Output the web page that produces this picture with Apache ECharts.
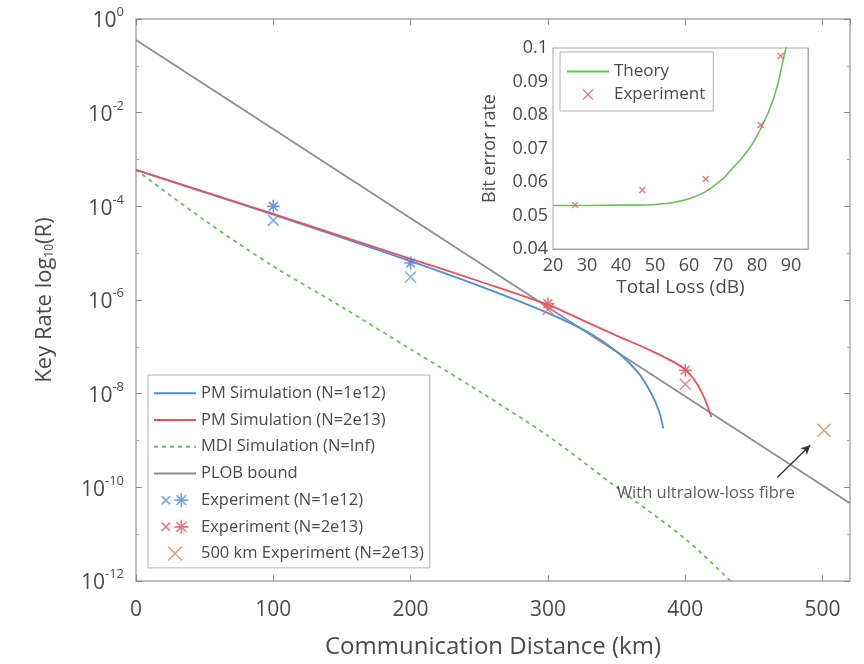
<!DOCTYPE html>
<html>
<head>
<meta charset="utf-8">
<script src="https://cdn.jsdelivr.net/npm/echarts@6/dist/echarts.min.js"></script>
<style>
html,body{margin:0;padding:0;background:#fff;}
#chart{width:864px;height:664px;}
</style>
</head>
<body>
<div id="chart"></div>
<script>
// ---------- main plot data (distance km, log10 key rate) ----------
const pm12Dist = [0, 50, 100, 150, 200, 250, 300, 330, 351, 366, 375, 381, 384];
const pm12Rate = [-3.22, -3.7, -4.18, -4.67, -5.17, -5.7, -6.28, -6.7, -7.12, -7.56, -7.98, -8.38, -8.74];

const pm13Dist = [0, 50, 100, 150, 200, 250, 300, 325, 350, 375, 390, 400, 407, 413, 419];
const pm13Rate = [-3.22, -3.69, -4.16, -4.64, -5.12, -5.6, -6.1, -6.43, -6.76, -7.08, -7.3, -7.48, -7.72, -8.03, -8.5];

const mdiDist = [0, 50, 100, 150, 200, 250, 300, 350, 400, 433];
const mdiRate = [-3.22, -4.3, -5.28, -6.15, -7.05, -7.95, -8.9, -10.0, -11.1, -12.0];

const plobDist = [0, 520];
const plobRate = [-0.45, -10.34];

const exp12CrossDist = [100, 200];
const exp12CrossRate = [-4.3, -5.51];
const exp12StarDist = [100, 200];
const exp12StarRate = [-4.0, -5.21];

const exp13CrossDist = [300, 400];
const exp13CrossRate = [-6.2, -7.8];
const exp13StarDist = [300, 400];
const exp13StarRate = [-6.08, -7.5];

const exp500Dist = [501];
const exp500Rate = [-8.78];

const noteText = 'With ultralow-loss fibre';
const notePos = [415, -10.13];
const arrowFrom = [467, -9.79];
const arrowTo = [491, -9.1];

// ---------- inset data ----------
const theoryLoss = [20, 30, 40, 45, 50, 55, 60, 65, 70, 72, 75, 77, 79, 81, 83, 85, 86.5, 87.5, 88.4, 88.7];
const theoryBer = [0.053, 0.053, 0.0531, 0.0531, 0.0533, 0.0538, 0.0550, 0.0572, 0.0610, 0.0632, 0.0665, 0.0690, 0.0720, 0.0757, 0.0800, 0.0854, 0.0908, 0.0955, 0.0994, 0.1008];
const expLoss = [26.5, 46.3, 64.9, 81.1, 87];
const expBer = [0.0531, 0.0576, 0.0609, 0.077, 0.0976];

const zip = (a, b) => a.map((v, i) => [v, b[i]]);

const C_BLUE = '#4f8fd6';
const C_BLUE2 = '#4a7fd0';
const C_RED = '#e5535c';
const C_GREEN = '#6cbf5c';
const C_GREY = '#8e8e8e';
const C_ORANGE = '#d88a55';
const TXT = '#4a4a4a';
const AX = '#a8a8a8';
const FONT = 'Open Sans';

const CROSS = 'path://M0,0L10,10M10,0L0,10';
const STAR = 'path://M5,0L5,10M0,5L10,5M1.6,1.6L8.4,8.4M8.4,1.6L1.6,8.4';
const PAIR = 'path://M0,2L6,8M6,2L0,8M14,0L14,10M9,5L19,5M10.5,1.5L17.5,8.5M17.5,1.5L10.5,8.5';

function markerSeries(name, dist, rate, symbol, color, size) {
  return {
    type: 'scatter', name: name, xAxisIndex: 0, yAxisIndex: 0,
    data: zip(dist, rate), symbol: symbol, symbolSize: size,
    itemStyle: { color: 'none', borderColor: color, borderWidth: 1.6 },
    z: 5
  };
}
function curve(name, dist, rate, color, width, dash, z) {
  return {
    type: 'line', name: name, xAxisIndex: 0, yAxisIndex: 0,
    data: zip(dist, rate), symbol: 'none', smooth: 0.3,
    lineStyle: { color: color, width: width, type: dash || 'solid' }, itemStyle: { color: color }, z: z
  };
}

const chart = echarts.init(document.getElementById('chart'));
const option = {
  animation: false,
  backgroundColor: '#fff',
  textStyle: { fontFamily: FONT },
  grid: [
    { left: 136, right: 14, top: 19, bottom: 83, show: false },
    { left: 553, top: 48, width: 255, height: 201, show: true, backgroundColor: '#fff', borderColor: AX, borderWidth: 1, z: 10 }
  ],
  xAxis: [
    {
      type: 'value', gridIndex: 0, min: 0, max: 520, interval: 100,
      axisLine: { show: true, onZero: false, lineStyle: { color: AX, width: 1.5 } },
      axisTick: { inside: true, length: 6, lineStyle: { color: '#888' } },
      axisLabel: { color: TXT, fontSize: 21, margin: 19, showMaxLabel: false, fontFamily: FONT },
      splitLine: { show: false },
      name: 'Communication Distance (km)', nameLocation: 'middle', nameGap: 54,
      nameTextStyle: { color: TXT, fontSize: 24, fontFamily: FONT }
    },
    {
      type: 'value', gridIndex: 0, position: 'top', min: 0, max: 520, interval: 100,
      axisLine: { show: true, onZero: false, lineStyle: { color: AX, width: 1.5 } },
      axisTick: { inside: true, length: 6, lineStyle: { color: '#888' } },
      axisLabel: { show: false }, splitLine: { show: false }
    },
    {
      type: 'value', gridIndex: 1, min: 20, max: 95, interval: 10,
      axisLine: { show: true, onZero: false, lineStyle: { color: AX } },
      axisTick: { inside: true, length: 4, lineStyle: { color: '#999' } },
      axisLabel: { color: TXT, fontSize: 18, margin: 8, showMaxLabel: false, fontFamily: FONT },
      splitLine: { show: false },
      name: 'Total Loss (dB)', nameLocation: 'middle', nameGap: 29,
      nameTextStyle: { color: TXT, fontSize: 19, fontFamily: FONT }
    },
    {
      type: 'value', gridIndex: 1, position: 'top', min: 20, max: 95, interval: 10,
      axisLine: { show: true, onZero: false, lineStyle: { color: AX } },
      axisTick: { inside: true, length: 4, lineStyle: { color: '#999' } },
      axisLabel: { show: false }, splitLine: { show: false }
    }
  ],
  yAxis: [
    {
      type: 'value', gridIndex: 0, min: -12, max: 0, interval: 2,
      axisLine: { show: true, onZero: false, lineStyle: { color: AX, width: 1.5 } },
      axisTick: { inside: true, length: 6, lineStyle: { color: '#888' } },
      minorTick: { show: true, splitNumber: 2, length: 3, lineStyle: { color: '#aaa' } },
      splitLine: { show: false },
      axisLabel: {
        color: TXT, margin: 12, fontFamily: FONT,
        formatter: v => '{b|10}{s|' + v + '}',
        rich: {
          b: { fontSize: 21, color: TXT, fontFamily: FONT, lineHeight: 26, verticalAlign: 'bottom' },
          s: { fontSize: 13, color: TXT, fontFamily: FONT, lineHeight: 26, verticalAlign: 'top', padding: [0, 0, 9, 0] }
        }
      },
      name: 'Key Rate log{n|10}(R)', nameLocation: 'middle', nameGap: 80, nameRotate: 90,
      nameTextStyle: {
        color: TXT, fontSize: 22, fontFamily: FONT,
        rich: { n: { fontSize: 12, color: TXT, fontFamily: FONT, padding: [9, 0, 0, 0] } }
      }
    },
    {
      type: 'value', gridIndex: 0, position: 'right', min: -12, max: 0, interval: 2,
      axisLine: { show: true, onZero: false, lineStyle: { color: AX, width: 1.5 } },
      axisTick: { inside: true, length: 6, lineStyle: { color: '#888' } },
      minorTick: { show: true, splitNumber: 2, length: 3, lineStyle: { color: '#aaa' } },
      axisLabel: { show: false }, splitLine: { show: false }
    },
    {
      type: 'value', gridIndex: 1, min: 0.04, max: 0.1, interval: 0.01,
      axisLine: { show: true, onZero: false, lineStyle: { color: AX } },
      axisTick: { inside: true, length: 4, lineStyle: { color: '#999' } },
      axisLabel: { color: TXT, fontSize: 18, margin: 5, fontFamily: FONT,
        formatter: v => (Math.abs(v - 0.1) < 1e-9 ? '0.1' : v.toFixed(2)) },
      splitLine: { show: false },
      name: 'Bit error rate', nameLocation: 'middle', nameGap: 54, nameRotate: 90,
      nameTextStyle: { color: TXT, fontSize: 18, fontFamily: FONT }
    },
    {
      type: 'value', gridIndex: 1, position: 'right', min: 0.04, max: 0.1, interval: 0.01,
      axisLine: { show: true, onZero: false, lineStyle: { color: AX } },
      axisTick: { inside: true, length: 4, lineStyle: { color: '#999' } },
      axisLabel: { show: false }, splitLine: { show: false }
    }
  ],
  legend: [
    {
      orient: 'vertical', left: 148, top: 375,
      itemWidth: 42, itemHeight: 14, itemGap: 0,
      padding: [5, 6, 1, 5],
      backgroundColor: '#fff', borderColor: '#b0b0b0', borderWidth: 1,
      textStyle: { color: TXT, fontSize: 16.5, fontFamily: FONT, lineHeight: 26.7 },
      selectedMode: false,
      data: [
        { name: 'PM Simulation (N=1e12)', itemStyle: { opacity: 0 } },
        { name: 'PM Simulation (N=2e13)', itemStyle: { opacity: 0 } },
        { name: 'MDI Simulation (N=Inf)', itemStyle: { opacity: 0 } },
        { name: 'PLOB bound', itemStyle: { opacity: 0 } },
        { name: 'Experiment (N=1e12)', icon: PAIR, itemStyle: { color: 'none', borderColor: C_BLUE, borderWidth: 1.6 } },
        { name: 'Experiment (N=2e13)', icon: PAIR, itemStyle: { color: 'none', borderColor: C_RED, borderWidth: 1.6 } },
        { name: '500 km Experiment (N=2e13)', icon: CROSS, itemStyle: { color: 'none', borderColor: C_ORANGE, borderWidth: 1.6 } }
      ],
      z: 20
    },
    {
      orient: 'vertical', left: 560, top: 52,
      itemWidth: 42, itemHeight: 10, itemGap: 0,
      padding: [8, 8, 5, 6],
      backgroundColor: '#fff', borderColor: '#b0b0b0', borderWidth: 1,
      textStyle: { color: TXT, fontSize: 17, fontFamily: FONT, lineHeight: 23 },
      selectedMode: false,
      data: [
        { name: 'Theory', itemStyle: { opacity: 0 } },
        { name: 'Experiment', icon: CROSS, itemStyle: { color: 'none', borderColor: C_RED, borderWidth: 1.2 } }
      ],
      z: 20
    }
  ],
  series: [
    curve('PLOB bound', plobDist, plobRate, C_GREY, 1.8, 'solid', 2),
    curve('MDI Simulation (N=Inf)', mdiDist, mdiRate, C_GREEN, 1.8, [4, 4], 2),
    curve('PM Simulation (N=1e12)', pm12Dist, pm12Rate, C_BLUE, 1.8, 'solid', 3),
    curve('PM Simulation (N=2e13)', pm13Dist, pm13Rate, C_RED, 1.8, 'solid', 3),
    markerSeries('Experiment (N=1e12)', exp12CrossDist, exp12CrossRate, CROSS, '#5aa0e0', 11),
    markerSeries('Experiment (N=1e12)', exp12StarDist, exp12StarRate, STAR, C_BLUE2, 13),
    markerSeries('Experiment (N=2e13)', exp13CrossDist, exp13CrossRate, CROSS, '#ea6b73', 11),
    markerSeries('Experiment (N=2e13)', exp13StarDist, exp13StarRate, STAR, C_RED, 13),
    markerSeries('500 km Experiment (N=2e13)', exp500Dist, exp500Rate, CROSS, C_ORANGE, 13),
    {
      type: 'scatter', name: 'note', xAxisIndex: 0, yAxisIndex: 0,
      data: [notePos], symbolSize: 0, silent: true,
      label: { show: true, position: 'inside', formatter: noteText, color: '#333', fontSize: 16.5, fontFamily: FONT },
      markLine: {
        silent: true, symbol: ['none', 'arrow'], symbolSize: [7, 9],
        label: { show: false },
        lineStyle: { color: '#333', width: 1.3, type: 'solid' },
        data: [[{ coord: arrowFrom }, { coord: arrowTo }]]
      },
      z: 6
    },
    {
      type: 'line', name: 'Theory', xAxisIndex: 2, yAxisIndex: 2,
      data: zip(theoryLoss, theoryBer), symbol: 'none', smooth: 0.3,
      lineStyle: { color: C_GREEN, width: 1.6 }, itemStyle: { color: C_GREEN }, z: 12
    },
    {
      type: 'scatter', name: 'Experiment', xAxisIndex: 2, yAxisIndex: 2,
      data: zip(expLoss, expBer), symbol: CROSS, symbolSize: 6,
      itemStyle: { color: 'none', borderColor: C_RED, borderWidth: 1.3 }, z: 13
    }
  ]
};
chart.setOption(option);
</script>
</body>
</html>
